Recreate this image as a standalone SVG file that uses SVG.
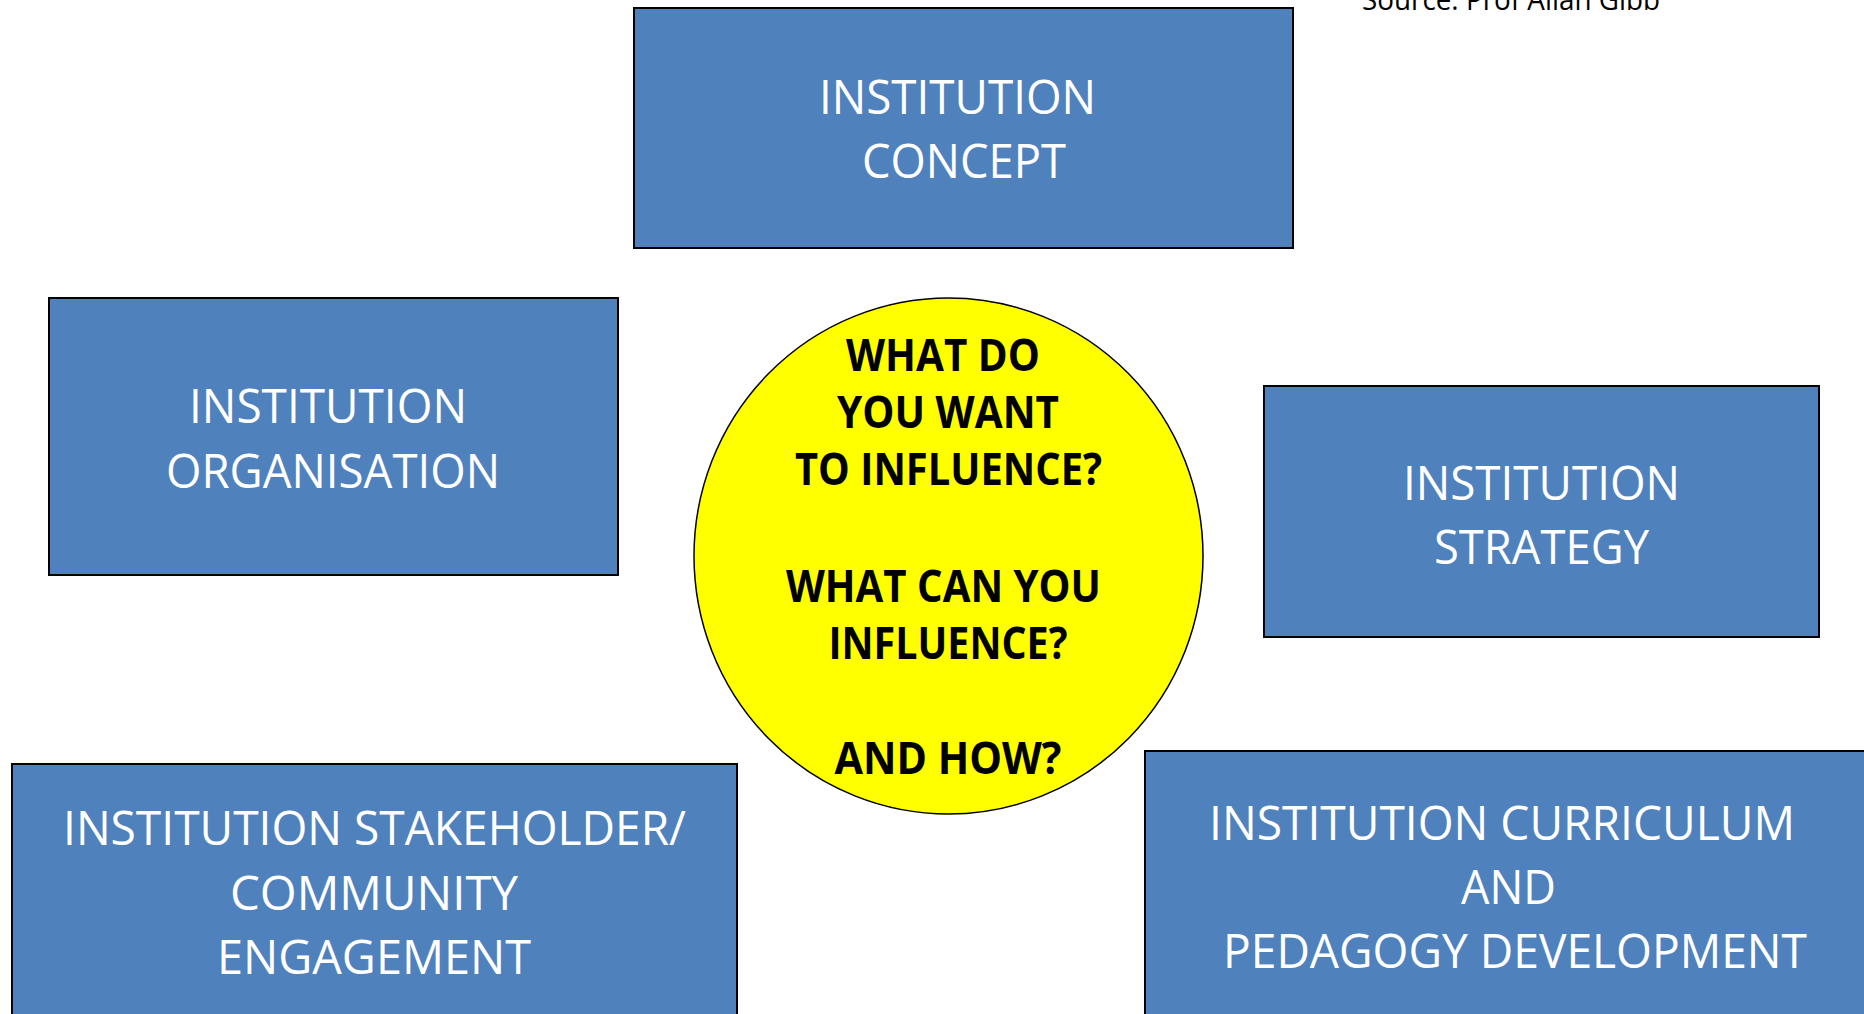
<svg xmlns="http://www.w3.org/2000/svg" width="1864" height="1014" viewBox="0 0 1864 1014">
<style>
.box{fill:#4F81BD;stroke:#000;stroke-width:2}
.lbl{font-family:"Open Sans","Liberation Sans",sans-serif;font-size:48px;fill:#fff;text-anchor:middle}
.q{font-family:"Open Sans","Liberation Sans",sans-serif;font-size:45px;font-weight:bold;fill:#000;text-anchor:middle}
.src{font-family:"Open Sans","Liberation Sans",sans-serif;font-size:29px;fill:#000}
</style>
<rect width="1864" height="1014" fill="#fff"/>
<g id="connectors"></g>
<text class="src" x="1362" y="10" textLength="298" lengthAdjust="spacingAndGlyphs">Source: Prof Allan Gibb</text>
<g id="concept">
<rect class="box" x="634" y="8" width="659" height="240"/>
<text class="lbl" x="957.5" y="114" textLength="277" lengthAdjust="spacingAndGlyphs">INSTITUTION</text>
<text class="lbl" x="964" y="178" textLength="204" lengthAdjust="spacingAndGlyphs">CONCEPT</text>
</g>
<g id="organisation">
<rect class="box" x="49" y="298" width="569" height="277"/>
<text class="lbl" x="328" y="423" textLength="278" lengthAdjust="spacingAndGlyphs">INSTITUTION</text>
<text class="lbl" x="333" y="488" textLength="334" lengthAdjust="spacingAndGlyphs">ORGANISATION</text>
</g>
<g id="strategy">
<rect class="box" x="1264" y="386" width="555" height="251"/>
<text class="lbl" x="1541.5" y="500" textLength="277" lengthAdjust="spacingAndGlyphs">INSTITUTION</text>
<text class="lbl" x="1541.5" y="564" textLength="215" lengthAdjust="spacingAndGlyphs">STRATEGY</text>
</g>
<g id="stakeholder">
<rect class="box" x="12" y="764" width="725" height="270"/>
<text class="lbl" x="374.5" y="845" textLength="623" lengthAdjust="spacingAndGlyphs">INSTITUTION STAKEHOLDER/</text>
<text class="lbl" x="374" y="910" textLength="288" lengthAdjust="spacingAndGlyphs">COMMUNITY</text>
<text class="lbl" x="374" y="974" textLength="314" lengthAdjust="spacingAndGlyphs">ENGAGEMENT</text>
</g>
<g id="curriculum">
<rect class="box" x="1145" y="751" width="740" height="290"/>
<text class="lbl" x="1502" y="840" textLength="586" lengthAdjust="spacingAndGlyphs">INSTITUTION CURRICULUM</text>
<text class="lbl" x="1508.5" y="904" textLength="95" lengthAdjust="spacingAndGlyphs">AND</text>
<text class="lbl" x="1515" y="968" textLength="584" lengthAdjust="spacingAndGlyphs">PEDAGOGY DEVELOPMENT</text>
</g>
<g id="centre">
<ellipse cx="948.5" cy="556" rx="254.5" ry="258" fill="#FFFF00" stroke="#000" stroke-width="1.5"/>
<text class="q" x="943" y="371" textLength="194" lengthAdjust="spacingAndGlyphs">WHAT DO</text>
<text class="q" x="948" y="428" textLength="222" lengthAdjust="spacingAndGlyphs">YOU WANT</text>
<text class="q" x="948.5" y="485" textLength="307" lengthAdjust="spacingAndGlyphs">TO INFLUENCE?</text>
<text class="q" x="943.5" y="602" textLength="315" lengthAdjust="spacingAndGlyphs">WHAT CAN YOU</text>
<text class="q" x="948" y="659" textLength="239" lengthAdjust="spacingAndGlyphs">INFLUENCE?</text>
<text class="q" x="948" y="774" textLength="227" lengthAdjust="spacingAndGlyphs">AND HOW?</text>
</g>
</svg>
